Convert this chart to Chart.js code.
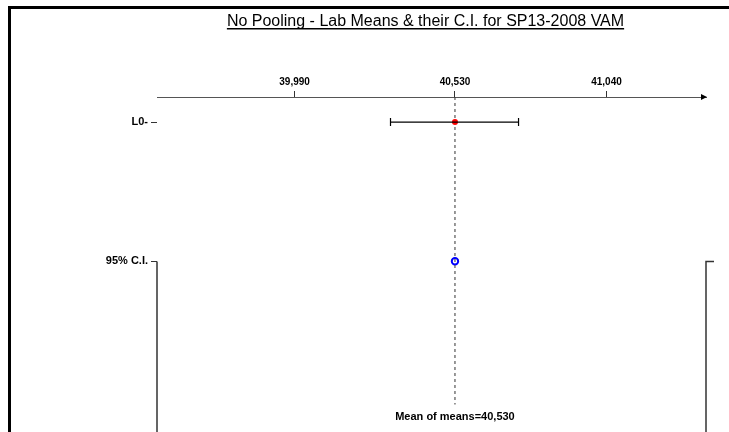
<!DOCTYPE html>
<html>
<head>
<meta charset="utf-8">
<script src="https://cdn.jsdelivr.net/npm/chart.js@4"></script>
<style>
  html, body { margin: 0; padding: 0; background: #fff; }
  #wrap { width: 729px; height: 432px; }
</style>
</head>
<body>
<div id="wrap"><canvas id="chart" width="729" height="432"></canvas></div>
<script>
// ============================================================
// DATA
// ============================================================
const TITLE = 'No Pooling - Lab Means & their C.I. for SP13-2008 VAM';
const rowLabels = ['L0-', '95% C.I.'];
const labNames = ['L0-'];
const labMeans = [40530];
const labLower = [40313];
const labUpper = [40744];
const meanOfMeans = 40530;
const xTicks = [39990, 40530, 41040];
const xMin = 39527;
const xMax = 41375;

const FONT = "'Liberation Sans', Arial, sans-serif";

// ============================================================
// DATASETS
// ============================================================
const datasets = [];

// confidence interval bars with end caps
labNames.forEach((name, i) => {
  datasets.push({
    label: name + ' C.I.',
    data: [{ x: labLower[i], y: i }, { x: labUpper[i], y: i }],
    showLine: true,
    borderColor: '#000',
    borderWidth: 1.2,
    pointStyle: 'line',
    rotation: 90,
    pointRadius: 4,
    pointBorderColor: '#000',
    pointBorderWidth: 1.2
  });
});

// lab means
datasets.push({
  label: 'Means',
  data: labMeans.map((m, i) => ({ x: m, y: i })),
  pointStyle: 'circle',
  pointRadius: 3,
  pointBackgroundColor: '#ff0000',
  pointBorderColor: '#ff0000',
  pointBorderWidth: 0
});

// dashed line at mean of means
datasets.push({
  label: 'Mean of means',
  data: [{ x: meanOfMeans, y: -0.18 }, { x: meanOfMeans, y: 2.03 }],
  showLine: true,
  borderColor: '#333',
  borderWidth: 1,
  borderDash: [3, 3],
  pointRadius: 0
});

// blue marker on 95% C.I. row
datasets.push({
  label: '95% C.I.',
  data: [{ x: meanOfMeans, y: 1 }],
  pointStyle: 'circle',
  pointRadius: 3.2,
  pointBackgroundColor: '#fff',
  pointBorderColor: '#0000ff',
  pointBorderWidth: 2
});

// ============================================================
// DECORATION PLUGIN — frame, title, arrow, brackets, mean label
// ============================================================
const decorPlugin = {
  id: 'decor',
  afterDraw(chart) {
    const { ctx, chartArea, scales } = chart;
    const x = scales.x, y = scales.y;
    ctx.save();

    // outer frame (left + top)
    ctx.fillStyle = '#000';
    ctx.fillRect(8, 6, 3, chart.height - 6);
    ctx.fillRect(8, 6, chart.width - 8, 3);

    // underlined title
    ctx.font = '16px ' + FONT;
    ctx.textAlign = 'center';
    ctx.textBaseline = 'alphabetic';
    const tx = (chartArea.left + chartArea.right) / 2 - 6;
    ctx.fillText(TITLE, tx, 26);
    const tw = ctx.measureText(TITLE).width;
    ctx.fillRect(tx - tw / 2, 28, tw, 1.5);

    // arrow at end of x axis
    const ay = chartArea.top;
    ctx.beginPath();
    ctx.moveTo(chartArea.right + 1, ay);
    ctx.lineTo(chartArea.right - 5, ay - 3);
    ctx.lineTo(chartArea.right - 5, ay + 3);
    ctx.closePath();
    ctx.fill();

    // brackets for the 95% C.I. panel
    const cy = Math.round(y.getPixelForValue(1)) + 0.5;
    ctx.strokeStyle = '#333';
    ctx.lineWidth = 1.5;
    ctx.beginPath();
    ctx.moveTo(chartArea.left, cy);
    ctx.lineTo(chartArea.left, chart.height);
    ctx.moveTo(chartArea.right + 8, cy);
    ctx.lineTo(chartArea.right, cy);
    ctx.lineTo(chartArea.right, chart.height);
    ctx.stroke();

    // mean of means label
    ctx.fillStyle = '#000';
    ctx.font = 'bold 11px ' + FONT;
    ctx.textBaseline = 'middle';
    ctx.fillText('Mean of means=' + meanOfMeans.toLocaleString('en-US'),
      x.getPixelForValue(meanOfMeans), chart.height - 15);
    ctx.restore();
  }
};

// ============================================================
// CHART
// ============================================================
new Chart(document.getElementById('chart'), {
  type: 'scatter',
  data: { datasets },
  plugins: [decorPlugin],
  options: {
    responsive: false,
    animation: false,
    layout: { padding: { top: 0, right: 23, bottom: 0, left: 0 } },
    plugins: { legend: { display: false }, tooltip: { enabled: false } },
    scales: {
      x: {
        type: 'linear',
        position: 'top',
        min: xMin,
        max: xMax,
        afterBuildTicks: s => { s.ticks = xTicks.map(v => ({ value: v })); },
        afterFit: s => { s.height = 97; },
        ticks: {
          color: '#000',
          font: { family: FONT, size: 10, weight: 'bold' },
          padding: 3,
          maxRotation: 0,
          callback: v => v.toLocaleString('en-US')
        },
        grid: { drawOnChartArea: false, drawTicks: true, tickLength: 6, color: '#333', lineWidth: 1 },
        border: { display: true, color: '#555', width: 1 }
      },
      y: {
        type: 'linear',
        reverse: true,
        min: -0.18,
        max: 2.158,
        afterBuildTicks: s => { s.ticks = rowLabels.map((_, i) => ({ value: i })); },
        afterFit: s => { s.width = 157; },
        ticks: {
          color: '#000',
          font: { family: FONT, size: 11, weight: 'bold' },
          padding: 3,
          callback: v => rowLabels[v]
        },
        grid: { drawOnChartArea: false, drawTicks: true, tickLength: 6, color: '#333', lineWidth: 1 },
        border: { display: false }
      }
    }
  }
});
</script>
</body>
</html>
